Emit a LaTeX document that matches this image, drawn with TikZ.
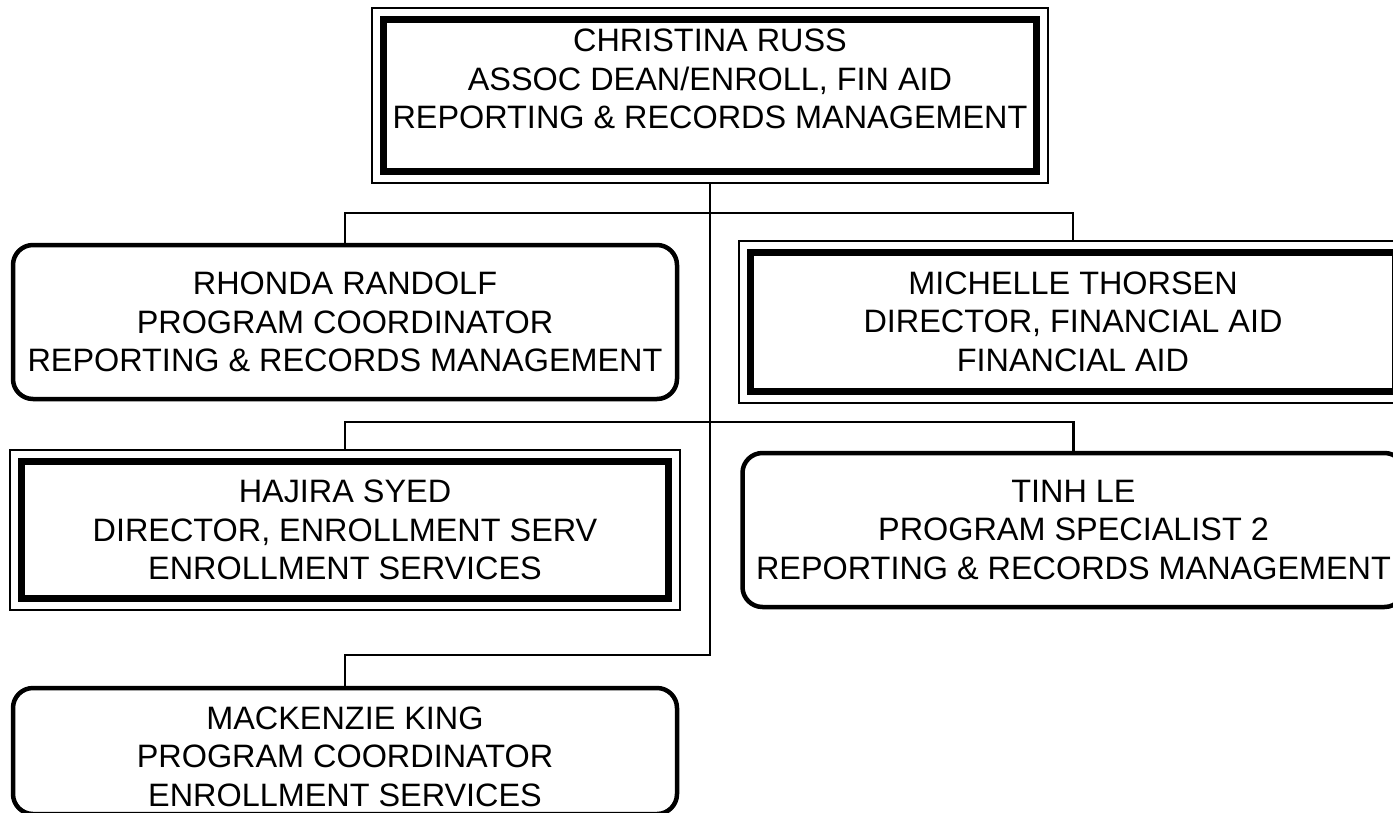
\documentclass[tikz,border=0pt]{standalone}
\usepackage{fontspec}
\setmainfont{Liberation Sans}
\usetikzlibrary{positioning}

\begin{document}
\begin{tikzpicture}[x=1pt, y=-1pt, line join=miter,
    every node/.style={font=\fontsize{32.4}{38.5}\selectfont, align=center, outer sep=0pt, inner sep=0pt},
    headbox/.style={draw, line width=7pt},
    staffbox/.style={draw, line width=4.5pt, rounded corners=20pt},
    frame/.style={draw, line width=2pt},
    link/.style={draw, line width=2.5pt}]
    \useasboundingbox (0,0) rectangle (1393,812);
    \node[headbox, minimum width=652.5pt, minimum height=152.5pt] (russ) at (710,95.25) {CHRISTINA RUSS\\ASSOC DEAN/ENROLL, FIN AID\\REPORTING \& RECORDS MANAGEMENT\\[-5.5pt]\mbox{}};
    \node[staffbox, minimum width=664pt, minimum height=154pt] (randolf) at (345,322) {RHONDA RANDOLF\\PROGRAM COORDINATOR\\REPORTING \& RECORDS MANAGEMENT};
    \node[headbox, minimum width=645pt, minimum height=139pt] (thorsen) at (1073,321.5) {MICHELLE THORSEN\\DIRECTOR, FINANCIAL AID\\FINANCIAL AID};
    \node[headbox, minimum width=647pt, minimum height=137pt] (syed) at (345,530) {HAJIRA SYED\\DIRECTOR, ENROLLMENT SERV\\ENROLLMENT SERVICES};
    \node[staffbox, minimum width=662pt, minimum height=154pt] (le) at (1073.5,530) {TINH LE\\PROGRAM SPECIALIST 2\\REPORTING \& RECORDS MANAGEMENT};
    \node[staffbox, minimum width=664pt, minimum height=126pt] (king) at (345,751) {\mbox{}\\[-5.2pt]MACKENZIE KING\\PROGRAM COORDINATOR\\ENROLLMENT SERVICES};
    \foreach \n in {russ, thorsen, syed}
        \draw[frame] ([shift={(-11.5,-11.5)}]\n.north west) rectangle ([shift={(11.5,11.5)}]\n.south east);
    \draw[link] ([yshift=-11.5pt]russ.south) |- ([yshift=33pt]king.north) -- (king.north);
    \draw[link] (randolf.north) -- ++(0,-32) -| ([yshift=11.5pt]thorsen.north);
    \draw[link] ([yshift=11.5pt]syed.north) -- ++(0,-28) -| (le.north);
\end{tikzpicture}
\end{document}
